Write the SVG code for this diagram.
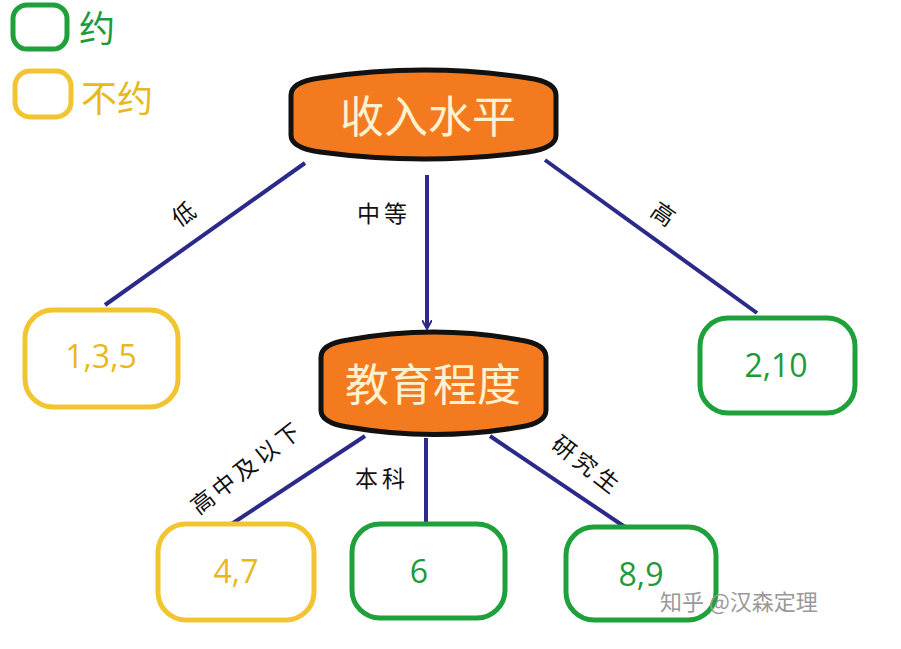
<svg xmlns="http://www.w3.org/2000/svg" width="901" height="649" viewBox="0 0 901 649">
<style>
.n{fill:#f47a20;stroke:#111;stroke-width:5}
.nt{fill:#fdf2d0;font-family:"Noto Sans CJK SC",sans-serif;font-size:44px;text-anchor:middle}
.e{stroke:#2b2a8a;stroke-width:4;fill:none}
.lb{fill:#111;font-family:"Noto Sans CJK SC",sans-serif;font-size:23px;letter-spacing:4px;text-anchor:middle}
.y{fill:#fff;stroke:#f2c530;stroke-width:5}
.g{fill:#fff;stroke:#1ea03a;stroke-width:5}
.yt{fill:#e8b820;font-family:"Open Sans","Noto Sans CJK SC",sans-serif;font-size:32px;text-anchor:middle}
.gt{fill:#1e9a3a;font-family:"Open Sans","Noto Sans CJK SC",sans-serif;font-size:32px;text-anchor:middle}
</style>
<defs><marker id="a" markerWidth="10" markerHeight="10" refX="8" refY="5" orient="auto" markerUnits="userSpaceOnUse"><path d="M0,0 L9,5 L0,10" fill="none" stroke="#2b2a8a" stroke-width="2"/></marker></defs>
<rect width="901" height="649" fill="#fff"/>
<g id="legend">
<rect x="13" y="5" width="54" height="44" rx="14" class="g"/>
<text x="79" y="42" font-family="Noto Sans CJK SC,sans-serif" font-size="36" fill="#1e9a3a">约</text>
<rect x="15" y="71" width="56" height="46" rx="15" class="y"/>
<text x="81" y="112" font-family="Noto Sans CJK SC,sans-serif" font-size="36" fill="#e8b820">不约</text>
</g>
<g id="edges">
<line x1="305" y1="163" x2="105" y2="305" class="e"/>
<line x1="427" y1="175" x2="427" y2="328" class="e" marker-end="url(#a)"/>
<line x1="545" y1="160" x2="757" y2="313" class="e"/>
<line x1="365" y1="436" x2="230" y2="525" class="e"/>
<line x1="426" y1="438" x2="426" y2="525" class="e"/>
<line x1="490" y1="436" x2="625" y2="527" class="e"/>
<text class="lb" transform="translate(190,220) rotate(-35)">低</text>
<text class="lb" x="384" y="222">中等</text>
<text class="lb" transform="translate(660,222) rotate(35)">高</text>
<text class="lb" transform="translate(252,474) rotate(-38)">高中及以下</text>
<text class="lb" x="382" y="487">本科</text>
<text class="lb" transform="translate(582,472) rotate(38)">研究生</text>
</g>
<g id="income">
<path class="n" d="M291,95 Q291,82 320,78 Q424,62 528,78 Q556,82 556,95 L556,135 Q556,148 528,152 Q424,166 320,152 Q291,148 291,135 Z"/>
<text class="nt" x="428" y="133">收入水平</text>
</g>
<g id="edu">
<path class="n" d="M321,357 Q321,344 348,340 Q434,324 520,340 Q546,344 546,357 L546,410 Q546,423 520,427 Q434,442 348,427 Q321,423 321,410 Z"/>
<text class="nt" x="433" y="401">教育程度</text>
</g>
<g id="n135"><rect x="25" y="310" width="153" height="97" rx="28" class="y"/><text class="yt" x="101" y="368">1,3,5</text></g>
<g id="n210"><rect x="700" y="318" width="155" height="95" rx="28" class="g"/><text class="gt" x="776" y="377">2,10</text></g>
<g id="n47"><rect x="158" y="524" width="156" height="96" rx="28" class="y"/><text class="yt" x="236" y="583">4,7</text></g>
<g id="n6"><rect x="352" y="524" width="153" height="94" rx="28" class="g"/><text class="gt" x="419" y="583">6</text></g>
<g id="n89"><rect x="566" y="527" width="150" height="93" rx="28" class="g"/><text class="gt" x="641" y="586">8,9</text></g>
<text x="660" y="610" font-family="Noto Sans CJK SC,sans-serif" font-size="22" fill="#999">知乎 @汉森定理</text>
</svg>
